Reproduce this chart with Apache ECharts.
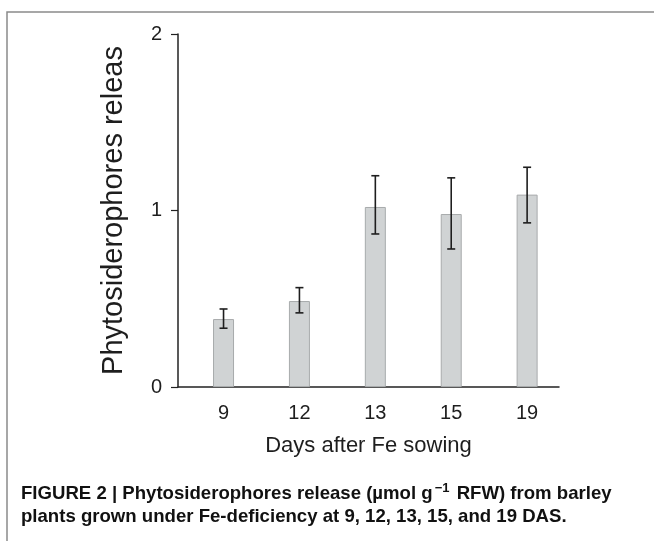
<!DOCTYPE html>
<html>
<head>
<meta charset="utf-8">
<script src="https://cdn.jsdelivr.net/npm/echarts@6/dist/echarts.min.js"></script>
<style>
  html, body { margin: 0; padding: 0; background: #fff; }
  #main { width: 654px; height: 541px; }
</style>
</head>
<body>
<div id="main"></div>
<script>
var days = ['9', '12', '13', '15', '19'];
var release = [0.385, 0.487, 1.02, 0.98, 1.09];
var errLow = [0.333, 0.42, 0.867, 0.782, 0.93];
var errHigh = [0.442, 0.563, 1.197, 1.185, 1.245];
var yTicks = [0, 1, 2];

var myChart = echarts.init(document.getElementById('main'));

var barData = release.map(function (v, i) { return [i, v]; });
var errData = release.map(function (v, i) { return [i, errLow[i], errHigh[i]]; });

var textColor = '#1e1e1e';
var font = 'Liberation Sans, Arial, sans-serif';
var capFont = 'Liberation Sans, Arial, sans-serif';

var option = {
    animation: false,
    grid: { left: 178, top: 34, width: 381, height: 353 },
    xAxis: {
        type: 'value',
        min: -0.6,
        max: 4.42,
        axisLine: { show: true, onZero: false, lineStyle: { color: '#222', width: 1.5 } },
        axisTick: { show: false },
        splitLine: { show: false },
        axisLabel: {
            customValues: [0, 1, 2, 3, 4],
            formatter: function (v) { return days[Math.round(v)]; },
            color: textColor, fontSize: 20, fontFamily: font, margin: 16
        },
        name: 'Days after Fe sowing',
        nameLocation: 'middle',
        nameGap: 48,
        nameTextStyle: { color: textColor, fontSize: 22, fontFamily: font }
    },
    yAxis: {
        type: 'value',
        min: yTicks[0],
        max: yTicks[yTicks.length - 1],
        interval: 1,
        axisLine: { show: true, onZero: false, lineStyle: { color: '#222', width: 1.5 } },
        axisTick: { show: true, length: 7, lineStyle: { color: '#222', width: 1.2 } },
        splitLine: { show: false },
        axisLabel: { color: textColor, fontSize: 20, fontFamily: font, margin: 16 },
        name: 'Phytosiderophores releas',
        nameLocation: 'middle',
        nameRotate: 90,
        nameGap: 50,
        nameTextStyle: { color: textColor, fontSize: 29, fontFamily: font }
    },
    series: [
        {
            type: 'bar',
            data: barData,
            barWidth: 21,
            itemStyle: { color: '#d0d3d4', borderColor: '#a8abac', borderWidth: 1 }
        },
        {
            type: 'custom',
            data: errData,
            z: 5,
            renderItem: function (params, api) {
                var x = api.value(0);
                var lo = api.coord([x, api.value(1)]);
                var hi = api.coord([x, api.value(2)]);
                var cap = 4;
                var st = { stroke: '#1e1e1e', lineWidth: 1.6 };
                return {
                    type: 'group',
                    children: [
                        { type: 'line', shape: { x1: lo[0], y1: lo[1], x2: hi[0], y2: hi[1] }, style: st },
                        { type: 'line', shape: { x1: lo[0] - cap, y1: lo[1], x2: lo[0] + cap, y2: lo[1] }, style: st },
                        { type: 'line', shape: { x1: hi[0] - cap, y1: hi[1], x2: hi[0] + cap, y2: hi[1] }, style: st }
                    ]
                };
            }
        }
    ],
    graphic: [
        {
            type: 'polyline',
            shape: { points: [[7, 541], [7, 12], [654, 12]] },
            style: { stroke: '#8a8a8a', lineWidth: 1.5, fill: null }
        },
        {
            type: 'text',
            left: 21,
            top: 482,
            style: {
                text: '{b|FIGURE 2 | Phytosiderophores release (µmol g}{s|−1}{b| RFW) from barley}\n{b|plants grown under Fe-deficiency at 9, 12, 13, 15, and 19 DAS.}',
                rich: {
                    b: { fontSize: 18.6, fontWeight: 'bold', fontFamily: capFont, fill: '#111', lineHeight: 23 },
                    s: { fontSize: 13, fontWeight: 'bold', fontFamily: capFont, fill: '#111', lineHeight: 23, verticalAlign: 'top', padding: [0, 2, 8, 2] }
                }
            }
        }
    ]
};

myChart.setOption(option);
window.onresize = function () {
    myChart.resize();
};
</script>
</body>
</html>
